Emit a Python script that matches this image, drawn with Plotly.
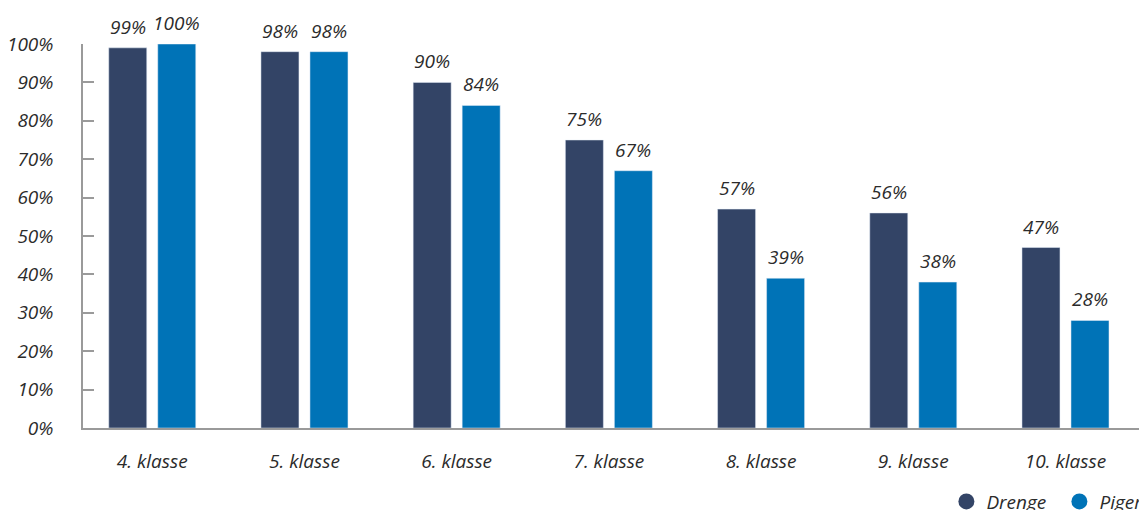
import plotly.graph_objects as go

categories = ["4. klasse", "5. klasse", "6. klasse", "7. klasse", "8. klasse", "9. klasse", "10. klasse"]
drenge = [99, 98, 90, 75, 57, 56, 47]
piger = [100, 98, 84, 67, 39, 38, 28]
tick_vals = [0, 10, 20, 30, 40, 50, 60, 70, 80, 90, 100]
tick_text = [f"{v}%" for v in tick_vals]

C_DRENGE = "#334466"
C_PIGER = "#0073b7"
FONT = "Open Sans"
TXT = "#2b2b2b"
FS = 19

fig = go.Figure()
for name, vals, col, shift in [("Drenge", drenge, C_DRENGE, -24.5), ("Piger", piger, C_PIGER, 24.5)]:
    fig.add_trace(go.Bar(
        x=categories, y=vals, name=name, marker_color=col, showlegend=False,
    ))
    fig.add_trace(go.Scatter(
        x=[None], y=[None], mode="markers", name=f"<i>{name}</i>",
        marker=dict(symbol="circle", size=22, color=col), showlegend=True,
    ))
    for c, v in zip(categories, vals):
        fig.add_annotation(
            x=c, y=v, xref="x", yref="y", text=f"<i>{v}%</i>", showarrow=False,
            xshift=shift, yshift=6, yanchor="bottom", xanchor="center",
            font=dict(family=FONT, size=FS, color=TXT),
        )

fig.update_layout(
    width=1139, height=510,
    margin=dict(l=83, r=0, t=44, b=82, autoexpand=False),
    paper_bgcolor="white", plot_bgcolor="white",
    barmode="group", bargap=0.356, bargroupgap=0.2245,
    font=dict(family=FONT, size=FS, color=TXT),
    legend=dict(orientation="h", x=0.8176, xanchor="left", y=-0.142, yanchor="top",
                font=dict(family=FONT, size=FS, color=TXT), itemsizing="trace",
                entrywidth=68, bgcolor="rgba(0,0,0,0)"),
)
fig.update_xaxes(
    type="category", range=[-0.455, 6.483], showgrid=False,
    showline=True, linecolor="#9a9a9a", linewidth=1.5,
    ticks="", tickvals=categories, ticktext=[f"<i>{c}</i>" for c in categories],
    tickfont=dict(family=FONT, size=FS, color=TXT), ticklabelstandoff=15,
)
fig.update_yaxes(
    range=[0, 100], showgrid=False, zeroline=False,
    showline=True, linecolor="#9a9a9a", linewidth=1.5,
    ticks="inside", ticklen=11, tickcolor="#9a9a9a", tickwidth=1.5,
    tickvals=tick_vals, ticktext=[f"<i>{t}</i>" for t in tick_text],
    tickfont=dict(family=FONT, size=FS, color=TXT), ticklabelstandoff=24,
)

fig.write_html("out.html", config={"displayModeBar": False},
               post_script="document.body.style.margin='0';document.body.style.overflow='hidden';")
